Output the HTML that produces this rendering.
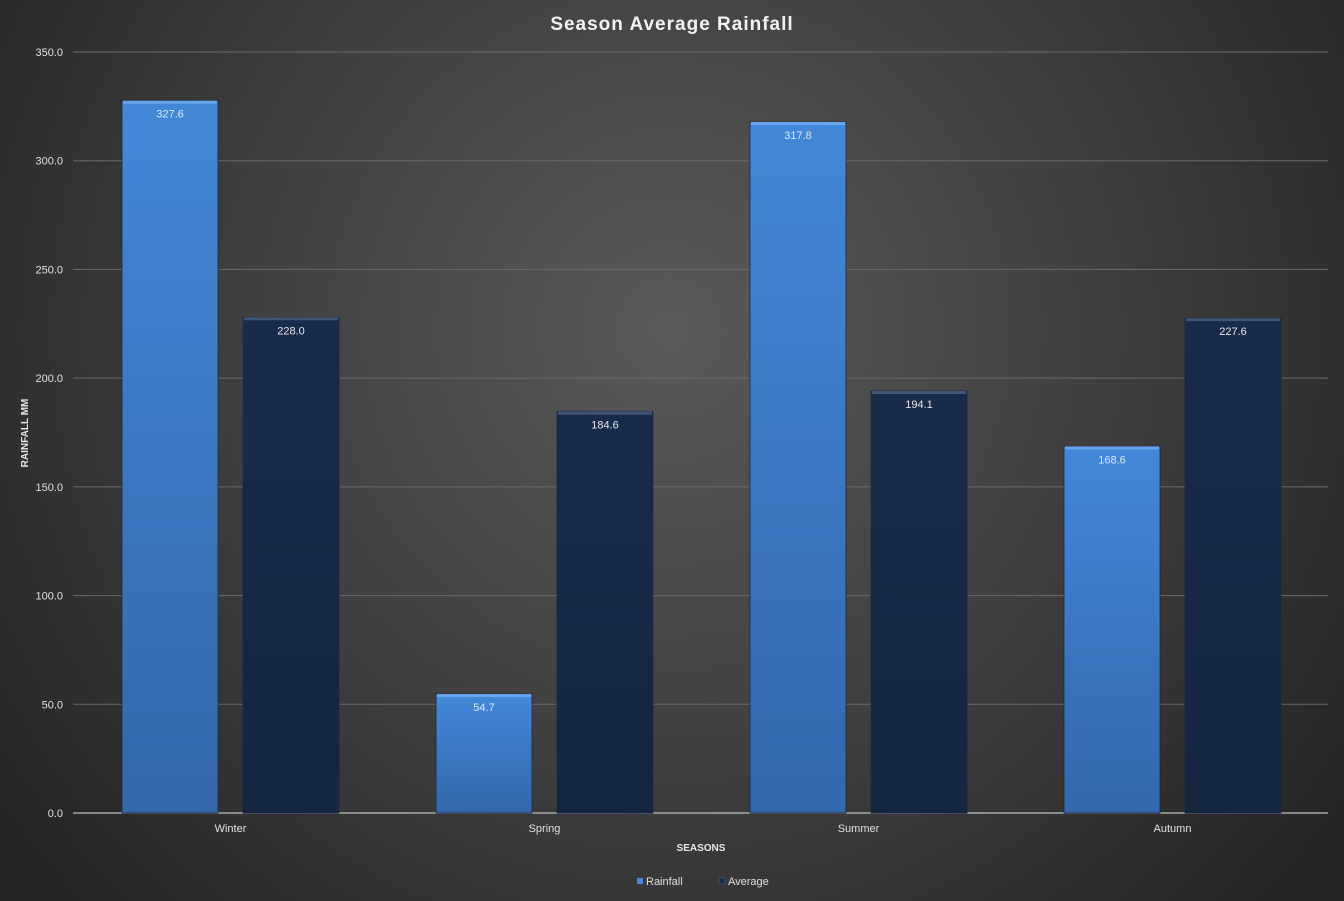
<!DOCTYPE html>
<html><head><meta charset="utf-8"><style>
html,body{margin:0;padding:0;width:1344px;height:901px;overflow:hidden;background:#2a2a2a}
svg{display:block;font-family:"Liberation Sans",sans-serif}
</style></head><body>
<svg id="chart" width="1344" height="901" viewBox="0 0 1344 901">
<defs>
<radialGradient id="bg" cx="670" cy="330" r="850" gradientUnits="userSpaceOnUse">
<stop offset="0" stop-color="#5a5a5a"/><stop offset="0.6" stop-color="#3a3a3a"/><stop offset="1" stop-color="#232323"/>
</radialGradient>
<linearGradient id="gRain" x1="0" y1="0" x2="0" y2="1"><stop offset="0" stop-color="#4388d8"/><stop offset="1" stop-color="#3567ab"/></linearGradient>
<linearGradient id="gAvg" x1="0" y1="0" x2="0" y2="1"><stop offset="0" stop-color="#182b4a"/><stop offset="1" stop-color="#142640"/></linearGradient>
</defs>
<rect width="1344" height="901" fill="url(#bg)"/>
<text x="672" y="30" text-anchor="middle" font-size="19" font-weight="bold" fill="#f2f2f2" letter-spacing="1">Season Average Rainfall</text>
<g id="grid"></g><g id="bars"></g><g id="labels"></g>
<text transform="translate(28,433) rotate(-90)" text-anchor="middle" font-size="10" font-weight="bold" fill="#e6e6e6">RAINFALL MM</text>
<text x="701" y="851" text-anchor="middle" font-size="10" font-weight="bold" fill="#e6e6e6">SEASONS</text>
<g>
<rect x="637" y="878" width="6" height="6" fill="#4388d8"/>
<text x="646" y="885" font-size="11" fill="#e0e0e0">Rainfall</text>
<rect x="719" y="878" width="6" height="6" fill="#182b4a" stroke="#5a6a80" stroke-width="0.5"/>
<text x="728" y="885" font-size="11" fill="#e0e0e0">Average</text>
</g>
</svg>
<script>
const categories=["Winter","Spring","Summer","Autumn"];
const rainfall=[327.6,54.7,317.8,168.6];
const average=[228.0,184.6,194.1,227.6];
const yTicks=[0,50,100,150,200,250,300,350];
const NS="http://www.w3.org/2000/svg";
const X0=73.5,X1=1329.5,Y0=813,Y1=52,YMAX=350;
const y=v=>Y0-(v/YMAX)*(Y0-Y1);
const band=(X1-X0)/categories.length;
const cx=i=>X0+band*(i+0.5);
function mk(tag,attrs,parent){const e=document.createElementNS(NS,tag);for(const k in attrs)e.setAttribute(k,attrs[k]);parent.appendChild(e);return e;}
const grid=document.getElementById('grid'),bars=document.getElementById('bars'),labels=document.getElementById('labels');
yTicks.forEach(t=>{
  if(t>0){const l=mk('line',{x1:73,x2:1328,y1:y(t),y2:y(t),stroke:'#6a6a6a','stroke-width':1},grid);
  
  }
  const tx=mk('text',{x:63,y:y(t)+4,'text-anchor':'end','font-size':11,fill:'#e0e0e0'},labels);
  tx.textContent=t.toFixed(1);
  
  
});
const ax=mk('line',{x1:73,x2:1328,y1:Y0,y2:Y0,stroke:'#bfbfbf','stroke-width':1.2},grid);


const BW=96,GAP=25;
function bar(i,v,series,fill,top,lblColor){
  const x=series===0?cx(i)-GAP/2-BW:cx(i)+GAP/2;
  const yt=y(v);
  const r=mk('rect',{x:x,y:yt,width:BW,height:Y0-yt,fill:fill,stroke:'#1a2840','stroke-width':0.8},bars);
  
  
  mk('rect',{x:x+1,y:yt,width:BW-2,height:3,fill:top},bars);
  const t=mk('text',{x:x+BW/2,y:yt+17,'text-anchor':'middle','font-size':11,fill:lblColor},labels);
  t.textContent=v.toFixed(1);
  
  
}
categories.forEach((c,i)=>{
  bar(i,rainfall[i],0,'url(#gRain)','#6aa6ec','#dde8f5');
  bar(i,average[i],1,'url(#gAvg)','#3d5577','#e6e6e6');
  const t=mk('text',{x:cx(i),y:832,'text-anchor':'middle','font-size':11,fill:'#e0e0e0'},labels);
  t.textContent=c;
  
  
});
</script>
</body></html>
